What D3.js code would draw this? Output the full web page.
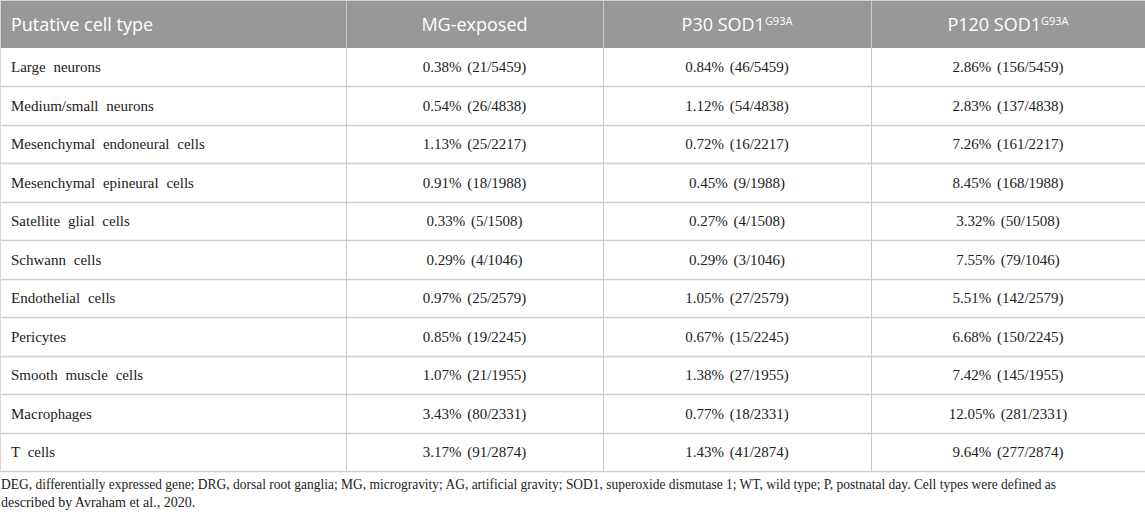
<!DOCTYPE html>
<html>
<head>
<meta charset="utf-8">
<script src="https://cdn.jsdelivr.net/npm/d3@7"></script>
<style>
  body { margin: 0; background: #fff; }
</style>
</head>
<body>
<div id="table"></div>
<script>
// Cell types (rows)
const cellTypes = [
  "Large neurons",
  "Medium/small neurons",
  "Mesenchymal endoneural cells",
  "Mesenchymal epineural cells",
  "Satellite glial cells",
  "Schwann cells",
  "Endothelial cells",
  "Pericytes",
  "Smooth muscle cells",
  "Macrophages",
  "T cells",
];
// total cells per type
const totals = [5459, 4838, 2217, 1988, 1508, 1046, 2579, 2245, 1955, 2331, 2874];

// MG-exposed
const mgPct = [0.38, 0.54, 1.13, 0.91, 0.33, 0.29, 0.97, 0.85, 1.07, 3.43, 3.17];
const mgCount = [21, 26, 25, 18, 5, 4, 25, 19, 21, 80, 91];
// P30 SOD1 G93A
const p30Pct = [0.84, 1.12, 0.72, 0.45, 0.27, 0.29, 1.05, 0.67, 1.38, 0.77, 1.43];
const p30Count = [46, 54, 16, 9, 4, 3, 27, 15, 27, 18, 41];
// P120 SOD1 G93A
const p120Pct = [2.86, 2.83, 7.26, 8.45, 3.32, 7.55, 5.51, 6.68, 7.42, 12.05, 9.64];
const p120Count = [156, 137, 161, 168, 50, 79, 142, 150, 145, 281, 277];

// header labels: [main text, superscript]
const headers = [
  ["Putative cell type", ""],
  ["MG-exposed", ""],
  ["P30 SOD1", "G93A"],
  ["P120 SOD1", "G93A"],
];

const footnote = [
  "DEG, differentially expressed gene; DRG, dorsal root ganglia; MG, microgravity; AG, artificial gravity; SOD1, superoxide dismutase 1; WT, wild type; P, postnatal day. Cell types were defined as",
  "described by Avraham et al., 2020.",
];

const width = 1145, height = 517;
const headerH = 48;
const tableBottom = 471;
// column edges
const colEdges = [0, 346, 603, 871, 1145];

const svg = d3
  .select("#table")
  .append("svg")
  .attr("width", width)
  .attr("height", height);

const y = d3.scaleBand().domain(cellTypes).range([headerH, tableBottom]);

const fmt = (p, c, t) => `${p.toFixed(2)}% (${c}/${t})`;

// build the rows
const rows = cellTypes.map((name, i) => ({
  name,
  cells: [
    fmt(mgPct[i], mgCount[i], totals[i]),
    fmt(p30Pct[i], p30Count[i], totals[i]),
    fmt(p120Pct[i], p120Count[i], totals[i]),
  ],
}));

// header background
svg
  .append("rect")
  .attr("x", 0)
  .attr("y", 1)
  .attr("width", width)
  .attr("height", headerH - 1)
  .attr("fill", "#989898");

// top line
svg
  .append("line")
  .attr("x1", 0)
  .attr("x2", width)
  .attr("y1", 0.5)
  .attr("y2", 0.5)
  .attr("stroke", "#d4d4d4");

// horizontal row lines
svg
  .selectAll(".hline")
  .data(cellTypes)
  .enter()
  .append("line")
  .attr("x1", 0)
  .attr("x2", width)
  .attr("y1", (d) => Math.round(y(d) + y.bandwidth()) + 0.5)
  .attr("y2", (d) => Math.round(y(d) + y.bandwidth()) + 0.5)
  .attr("stroke", "#cfcfcf")
  .attr("stroke-width", 1.5);

// vertical lines
svg
  .selectAll(".vline")
  .data(colEdges.slice(0, 4))
  .enter()
  .append("line")
  .attr("x1", (d) => d + 0.5)
  .attr("x2", (d) => d + 0.5)
  .attr("y1", 1)
  .attr("y2", tableBottom)
  .attr("stroke", (d, i) => (i === 0 ? "#d8d8d8" : "#c8c8c8"))
  .attr("stroke-width", 1);

// header texts
const head = svg
  .selectAll(".head")
  .data(headers)
  .enter()
  .append("text")
  .attr("x", (d, i) => (i === 0 ? 11 : (colEdges[i] + colEdges[i + 1]) / 2))
  .attr("y", 25)
  .attr("dy", "0.35em")
  .attr("text-anchor", (d, i) => (i === 0 ? "start" : "middle"))
  .style("font-family", "'Open Sans', sans-serif")
  .style("font-size", "18px")
  .attr("fill", "#fff");

head.append("tspan").text((d) => d[0]);
head
  .filter((d) => d[1] !== "")
  .append("tspan")
  .attr("dy", "-0.55em")
  .style("font-size", "11px")
  .text((d) => d[1]);

// row labels
svg
  .selectAll(".label")
  .data(rows)
  .enter()
  .append("text")
  .attr("x", 11)
  .attr("y", (d) => y(d.name) + y.bandwidth() / 2)
  .attr("dy", "0.35em")
  .style("font-family", "'Liberation Serif', serif")
  .style("font-size", "15px")
  .style("word-spacing", "4px")
  .attr("fill", "#222")
  .text((d) => d.name);

// value cells
rows.forEach((r) => {
  svg
    .selectAll(null)
    .data(r.cells)
    .enter()
    .append("text")
    .attr("x", (d, j) => (colEdges[j + 1] + colEdges[j + 2]) / 2)
    .attr("y", y(r.name) + y.bandwidth() / 2)
    .attr("dy", "0.35em")
    .attr("text-anchor", "middle")
    .style("font-family", "'Liberation Serif', serif")
    .style("font-size", "15px")
    .style("word-spacing", "2px")
    .attr("fill", "#222")
    .text((d) => d);
});

// footnote
svg
  .selectAll(".foot")
  .data(footnote)
  .enter()
  .append("text")
  .attr("x", 1)
  .attr("y", (d, i) => 484 + i * 18)
  .attr("dy", "0.35em")
  .attr("textLength", (d, i) => (i === 0 ? 1055 : null))
  .attr("lengthAdjust", "spacingAndGlyphs")
  .style("font-family", "'Liberation Serif', serif")
  .style("font-size", "14px")
  .attr("fill", "#222")
  .text((d) => d);
</script>
</body>
</html>
